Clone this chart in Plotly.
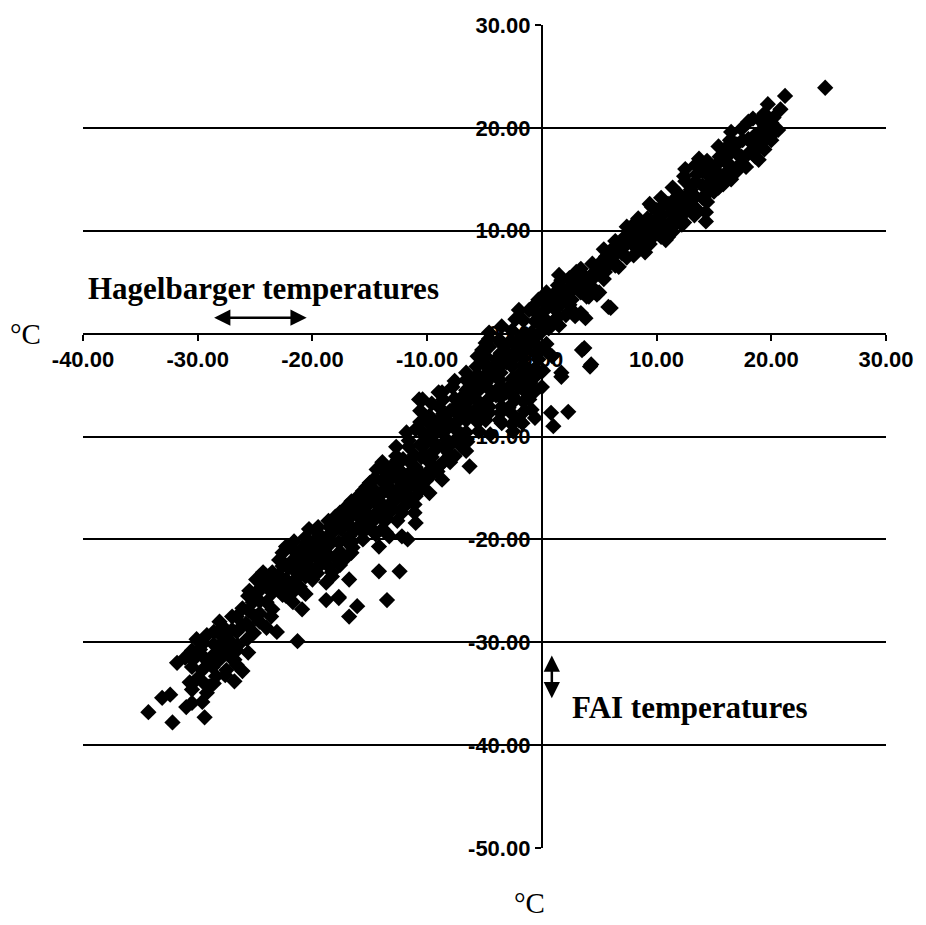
import plotly.graph_objects as go

# (Hagelbarger temperature, FAI temperature) pairs in degC
cold = [(-34.3,-36.8),(-32.2,-37.8),(-29.4,-37.3),(-33.1,-35.4),(-32.4,-35.1),(-31.0,-36.3),
        (-30.5,-35.9),(-31.8,-32.0),(-31.1,-31.5),(-30.4,-31.7),(-29.8,-30.7),(-30.1,-29.7),
        (-29.2,-29.3),(-27.8,-30.0),(-28.1,-31.7),(-27.2,-31.4),(-27.5,-32.7),(-28.7,-32.4),
        (-29.6,-32.7),(-30.1,-33.6),(-29.0,-34.3),(-28.4,-33.3),(-30.7,-33.9),(-29.2,-34.9),
        (-26.8,-31.7),(-26.1,-32.8),(-26.8,-33.8),(-25.7,-29.7),(-27.8,-28.5),(-28.1,-28.0),
        (-27.0,-27.5),(-26.1,-26.7),(-25.2,-26.1),(-24.0,-26.1),(-23.5,-26.8),(-24.6,-23.9),
        (-23.5,-23.2),(-22.3,-23.9),(-24.0,-28.6),(-23.1,-29.0),(-21.3,-29.9),(-21.7,-26.1),
        (-20.9,-26.8),(-22.3,-25.5),(-22.9,-24.6),(-21.1,-24.6),(-28.0,-29.3),(-27.0,-28.8),
        (-26.5,-30.3),(-25.8,-28.2),(-25.0,-27.5),(-24.9,-23.9),(-24.3,-23.2),(-24.0,-24.5),
        (-23.5,-25.2),(-25.5,-25.0),(-24.8,-25.2)]

mid = [(-20.0,-23.9),(-18.8,-25.9),(-17.7,-25.6),(-18.3,-23.2),(-19.4,-22.6),(-22.6,-23.9),
       (-22.9,-22.0),(-21.7,-21.0),(-22.3,-20.7),(-20.3,-19.0),(-18.5,-18.8),(-19.7,-20.0),
       (-20.9,-21.7),(-18.8,-21.3),(-17.7,-20.3),(-20.0,-22.9),(-18.3,-23.6),(-18.8,-24.2),
       (-17.0,-21.7),(-16.8,-23.9),(-16.8,-19.7),(-16.2,-19.0),(-17.0,-16.8),(-16.2,-17.4),
       (-15.3,-16.8),(-14.4,-17.4),(-15.0,-18.8),(-13.9,-19.0),(-13.3,-19.7),(-12.2,-19.7),
       (-14.2,-20.7),(-11.7,-20.0),(-11.0,-18.4),(-11.1,-17.4),(-14.2,-23.1),(-12.4,-23.1),
       (-13.5,-25.9),(-16.8,-27.5),(-16.1,-26.5),(-17.7,-25.7),(-15.3,-14.9),(-14.8,-15.8),
       (-13.9,-15.5),(-13.3,-14.9),(-12.7,-16.1),(-13.0,-17.1),(-12.2,-17.4),(-11.8,-15.5),
       (-11.0,-15.8),(-10.4,-14.9),(-9.8,-15.5),(-11.0,-14.2),(-12.2,-13.5),(-13.6,-13.5),
       (-13.9,-12.5),(-12.7,-11.9),(-12.7,-11.0),(-11.8,-9.6),(-11.0,-9.3),(-11.6,-11.0),
       (-10.4,-11.0),(-14.4,-13.2),(-23.0,-23.5),(-22.5,-22.3),(-22.0,-24.8),(-21.5,-22.5),
       (-21.0,-21.0),(-21.0,-23.2),(-20.5,-20.3),(-20.0,-21.5),(-19.5,-18.8),(-19.5,-20.5),
       (-19.0,-22.0),(-18.5,-20.0),(-18.0,-17.8),(-18.0,-21.8),(-17.5,-19.0),(-17.0,-18.2),
       (-16.5,-20.8),(-16.0,-15.8),(-16.0,-17.8),(-15.5,-18.5),(-15.0,-14.5),(-15.0,-16.2),
       (-14.5,-19.5),(-14.0,-14.3),(-14.0,-16.5),(-13.5,-18.0),(-13.0,-12.8),(-13.0,-15.8),
       (-12.5,-13.2),(-12.0,-14.5),(-12.0,-16.8),(-11.5,-12.5),(-11.0,-13.0),(-10.5,-12.0),
       (-10.0,-13.5)]

near_zero = [(-9.8,-12.5),(-9.0,-12.9),(-8.7,-14.2),(-9.2,-9.6),(-8.3,-10.3),(-8.1,-11.6),
             (-7.5,-8.7),(-6.6,-9.6),(-6.3,-12.9),(-7.0,-11.0),(-10.7,-6.4),(-9.8,-8.0),
             (-8.7,-5.7),(-7.8,-5.2),(-7.5,-7.1),(-5.7,-6.4),(-5.2,-8.0),(-4.6,-5.4),
             (-3.5,-7.1),(-3.5,-8.7),(-2.3,-6.4),(-1.7,-8.7),(-1.4,-5.7),(-2.9,-5.2),
             (-0.9,-7.4),(-10.4,-6.4),(-9.0,-5.7),(-6.6,-3.8),(-5.7,-3.2),(-4.6,-1.3),
             (-4.9,-2.2),(-3.7,-0.6),(-3.5,0.7),(-2.3,1.4),(-1.1,2.3),(-2.0,2.3),(-0.3,3.3),
             (-4.0,-2.5),(-3.1,-1.8),(-2.0,-0.6),(-0.9,0.1),(0.0,0.7),(-1.4,-1.6),(-0.3,-1.3),
             (-2.6,-3.2),(-1.1,-3.5),(-0.3,-2.5),(-3.7,-4.5),(-4.9,-4.8),(-6.3,-5.2),
             (-2.0,-5.2),(0.0,-5.2),(0.1,-3.6),(0.9,-2.2),(1.7,-3.8),(0.8,-7.7),(1.0,-9.0),
             (2.3,-7.6),(-3.7,-8.4),(-2.9,-7.2),(-2.0,-8.4),(-1.1,-6.4),(-3.1,-5.7),
             (-4.6,-7.1),(-6.3,-6.4),(-9.0,-7.1),(-7.5,-7.7),(-4.9,-8.4),(-10.0,-10.0),
             (-9.5,-11.5),(-9.0,-8.5),(-8.5,-9.5),(-8.0,-12.5),(-8.0,-7.5),(-7.0,-9.8),
             (-7.0,-6.2),(-6.5,-10.5),(-6.0,-7.8),(-6.0,-4.5),(-5.5,-9.5),(-5.5,-5.5),
             (-5.0,-3.0),(-5.0,-6.8),(-4.5,-9.8),(-4.2,-4.0),(-4.0,-6.0),(-3.5,-3.0),
             (-3.0,-1.0),(-2.5,-9.5),(-2.5,-2.5),(-2.0,-4.0),(-1.5,-7.5),(-1.5,-1.0),
             (-1.0,-4.8),(-0.5,-2.0),(-4.6,0.1),(-4.9,-0.9),(-5.2,-1.6),(-1.4,-1.3),
             (-10.0,-8.5),(-10.5,-9.5)]

warm = [(1.5,5.7),(0.9,3.3),(1.7,4.0),(2.6,3.3),(3.5,4.6),(3.0,6.0),(4.3,5.2),(5.0,6.5),
        (5.6,7.5),(6.7,8.2),(6.7,6.5),(7.8,8.8),(7.8,10.4),(9.0,9.8),(9.0,7.9),(9.6,12.3),
        (10.2,11.1),(10.8,9.1),(11.3,11.8),(4.3,4.6),(2.3,3.3),(0.3,2.3),(1.2,2.3),
        (4.8,3.8),(3.9,3.6),(6.0,2.5),(3.8,1.5),(3.7,-1.4),(4.3,-3.0),(2.1,1.8),(2.9,1.7),
        (1.7,5.2),(4.1,3.6),(5.0,4.0),(5.8,2.6),(3.4,2.0),(2.6,2.3),(3.5,-1.6),(4.2,-3.2),
        (1.7,-4.2),(5.5,6.0),(6.0,7.2),(7.0,7.8),(7.3,9.5),(8.3,8.5),(8.5,10.5),(9.2,11.2),
        (9.5,9.2),(10.0,12.0),(6.2,8.3),(5.2,7.0),(4.6,6.0),(3.8,5.5),(2.5,4.6),(3.2,5.0),
        (1.8,3.0),(1.0,3.8),(0.5,3.0),(-0.5,2.0),(0.2,1.5),(1.0,1.2),(0.6,0.5),(1.5,0.8)]

hot = [(10.0,10.0),(10.5,11.5),(11.0,12.6),(11.5,10.5),(12.0,13.5),(12.0,11.6),(12.5,14.8),
       (12.5,16.0),(13.0,12.5),(13.0,14.0),(13.5,15.5),(13.7,17.0),(14.0,13.2),(14.3,11.8),
       (14.3,10.9),(14.5,14.5),(15.0,16.0),(15.0,13.8),(15.5,17.2),(15.7,15.3),(16.0,18.0),
       (16.3,16.5),(16.5,19.6),(17.0,17.5),(17.0,15.8),(17.5,18.8),(18.0,20.6),(18.0,17.5),
       (18.6,17.2),(18.5,19.2),(19.0,20.8),(19.0,18.2),(19.7,22.3),(19.5,19.5),(20.0,20.5),
       (20.0,18.8),(20.6,19.8),(20.8,21.8),(21.2,23.1),(24.7,23.9),(11.0,9.4),(12.2,10.6),
       (13.3,11.5),(15.8,14.5),(16.5,15.0),(17.8,16.2),(18.9,16.9),(9.5,11.0),(8.5,9.0),
       (8.0,9.6),(10.5,10.0),(12.5,11.8),(11.5,13.0),(14.0,15.8),(16.8,18.5)]

# further readings from the densest, overlapping part of the band
dense = [(-30.5,-30.8),(-30.5,-32.4),(-30.5,-34.6),(-29.6,-30.2),(-29.6,-31.3),(-29.6,-33.8),
         (-29.6,-35.8),(-28.6,-29.0),(-28.6,-30.2),(-28.6,-31.2),(-28.6,-34.0),(-27.6,-29.2),
         (-27.6,-30.8),(-27.6,-33.2),(-26.6,-27.5),(-26.6,-29.0),(-26.6,-30.8),(-26.6,-32.2),
         (-25.6,-25.5),(-25.6,-26.9),(-25.6,-28.4),(-25.6,-31.0),(-24.6,-24.8),(-24.6,-26.0),
         (-24.6,-27.2),(-24.6,-28.0),(-23.6,-23.8),(-23.6,-24.4),(-23.6,-27.5),(-22.6,-21.3),
         (-22.6,-22.6),(-22.6,-24.2),(-22.6,-25.4),(-21.6,-20.2),(-21.6,-21.9),(-21.6,-23.0),
         (-21.6,-24.0),(-21.6,-25.0),(-20.6,-19.8),(-20.6,-21.1),(-20.6,-22.2),(-20.6,-23.6),
         (-20.6,-25.3),(-19.6,-19.3),(-19.6,-20.9),(-19.6,-21.8),(-19.6,-23.3),(-18.6,-18.2),
         (-18.6,-19.6),(-18.6,-20.6),(-18.6,-22.6),(-17.6,-17.4),(-17.6,-18.3),(-17.6,-21.2),
         (-17.6,-22.5),(-16.6,-16.3),(-16.6,-17.6),(-16.6,-18.8),(-16.6,-20.3),(-16.6,-21.3),
         (-15.6,-15.3),(-15.6,-16.0),(-15.6,-17.3),(-15.6,-19.3),(-15.6,-20.0),(-14.6,-14.1),
         (-14.6,-15.2),(-14.6,-16.4),(-14.6,-18.1),(-13.6,-13.0),(-13.6,-14.4),(-13.6,-16.9),
         (-13.6,-19.3),(-12.6,-12.3),(-12.6,-14.1),(-12.6,-15.2),(-12.6,-18.2),(-11.6,-10.4),
         (-11.6,-13.6),(-11.6,-14.9),(-11.6,-16.3),(-10.6,-7.5),(-10.6,-8.6),(-10.6,-10.8),
         (-10.6,-13.6),(-10.6,-15.2),(-9.6,-6.8),(-9.6,-9.0),(-9.6,-10.4),(-9.6,-12.0),
         (-9.6,-13.7),(-8.6,-6.4),(-8.6,-7.8),(-8.6,-8.9),(-8.6,-11.0),(-8.6,-12.5),
         (-7.6,-4.6),(-7.6,-6.3),(-7.6,-9.2),(-7.6,-10.4),(-7.6,-11.9),(-6.6,-4.5),
         (-6.6,-5.5),(-6.6,-7.2),(-6.6,-8.4),(-6.6,-11.4),(-5.6,-2.2),(-5.6,-4.0),
         (-5.6,-5.0),(-5.6,-7.2),(-5.6,-8.6),(-4.6,-0.5),(-4.6,-3.3),(-4.6,-4.3),
         (-4.6,-6.3),(-4.6,-7.7),(-3.6,-0.9),(-3.6,-1.9),(-3.6,-3.8),(-3.6,-5.1),
         (-3.6,-6.2),(-3.6,-7.7),(-2.6,0.3),(-2.6,-0.8),(-2.6,-4.4),(-2.6,-6.0),
         (-2.6,-7.8),(-2.6,-8.8),(-1.6,1.3),(-1.6,0.0),(-1.6,-2.4),(-1.6,-3.0),
         (-1.6,-4.3),(-1.6,-6.6),(-0.6,2.8),(-0.6,1.2),(-0.6,-0.4),(-0.6,-3.4),
         (-0.6,-4.2),(-0.6,-5.6),(-0.6,-8.2),(0.4,4.0),(0.4,3.4),(0.4,0.9),(0.4,-1.0),
         (0.4,-1.7),(1.4,4.7),(1.4,3.2),(1.4,1.6),(2.4,5.4),(2.4,4.0),(2.4,2.8),
         (3.4,6.3),(3.4,5.3),(3.4,4.0),(4.4,6.8),(4.4,5.7),(5.4,8.2),(5.4,6.6),(5.4,5.3),
         (6.4,9.0),(6.4,7.7),(6.4,6.6),(7.4,10.4),(7.4,8.7),(7.4,7.4),(8.4,11.2),
         (8.4,10.0),(8.4,8.2),(9.4,12.6),(9.4,10.3),(9.4,8.7),(10.4,13.2),(10.4,12.3),
         (10.4,10.8),(10.4,9.4),(11.4,14.2),(11.4,12.1),(11.4,11.0),(11.4,9.9),
         (12.4,15.3),(12.4,13.2),(12.4,12.4),(12.4,10.8),(13.4,16.4),(13.4,14.8),
         (13.4,13.3),(13.4,12.2),(14.4,16.8),(14.4,15.5),(14.4,13.6),(14.4,12.8),
         (15.4,18.2),(15.4,16.6),(15.4,15.0),(15.4,14.2),(16.4,18.8),(16.4,17.5),
         (16.4,16.0),(16.4,15.4),(17.4,19.9),(17.4,17.2),(17.4,16.6),(18.4,20.9),
         (18.4,18.4),(18.4,17.6),(19.4,21.4),(19.4,20.3),(19.4,18.8),(19.4,17.9),
         (20.2,21.0),(20.2,19.5)]

core = [(-19.1,-19.9),(-18.1,-19.2),(-17.1,-20.1),(-16.1,-16.8),(-15.1,-17.6),(-14.1,-15.6),
        (-13.1,-14.0),(-12.1,-12.2),(-11.1,-11.8),(-10.1,-11.9),(-9.1,-10.9),(-8.1,-8.6),
        (-7.1,-8.1),(-6.1,-6.2),(-5.1,-4.2),(-4.1,-3.2),(-3.1,-2.8),(-2.1,-1.6),(-1.1,-0.9),
        (-0.1,0.1),(-23.1,-24.2),(-22.1,-22.8),(-21.1,-22.1),(-20.1,-20.6),(-26.1,-28.4),
        (-27.1,-30.0),(-28.1,-30.4),(-29.1,-31.9),(-25.1,-29.1),(-12.1,-15.8),(-13.1,-16.4),
        (-14.1,-17.8),(-11.1,-16.6),(-10.1,-14.3),(-9.1,-13.4),(-8.1,-10.9),(2.0,3.9),
        (3.0,4.5),(4.0,5.1),(5.0,5.8),(6.0,6.9),(7.0,8.9),(8.0,7.6),(9.0,10.7),(10.0,11.1),
        (11.0,10.4),(12.0,12.7),(13.0,13.6),(14.0,14.4),(15.0,14.8),(16.0,16.7),(17.0,18.4),
        (18.0,18.9),(19.0,19.6),(20.0,19.9)]

points = cold + mid + near_zero + warm + hot + dense + core
hagelbarger = [p[0] for p in points]
fai = [p[1] for p in points]

x_range = [-40, 30]
y_range = [-50, 30]
x_ticks = [-40, -30, -20, -10, 0, 10, 20, 30]
x_tick_text = ["-40.00", "-30.00", "-20.00", "-10.00", "0.00", "10.00", "20.00", "30.00"]
y_ticks = [-50, -40, -30, -20, -10, 0, 10, 20, 30]
y_tick_text = ["-50.00", "-40.00", "-30.00", "-20.00", "-10.00", "0.00", "10.00", "20.00", "30.00"]

fig = go.Figure()
fig.add_trace(go.Scatter(
    x=hagelbarger, y=fai, mode="markers",
    marker=dict(symbol="diamond", size=12.5, color="black", line=dict(width=0)),
    hoverinfo="skip", showlegend=False))

tick_font = dict(family="Liberation Sans, Arial, sans-serif", size=22, color="black", weight="bold")

fig.update_layout(
    width=926, height=925,
    margin=dict(l=83, r=38, t=25, b=77),
    paper_bgcolor="white", plot_bgcolor="white",
    showlegend=False,
    xaxis=dict(range=x_range, tickmode="array", tickvals=x_ticks, ticktext=x_tick_text,
               showgrid=False, zeroline=False, showline=True, linecolor="black",
               linewidth=2, ticks="outside", ticklen=6, tickwidth=2, tickcolor="black",
               anchor="free", position=(0 - y_range[0]) / (y_range[1] - y_range[0]),
               tickfont=tick_font),
    yaxis=dict(range=y_range, tickmode="array", tickvals=y_ticks, ticktext=y_tick_text,
               showgrid=True, gridcolor="black", gridwidth=2, zeroline=False,
               showline=True, linecolor="black", linewidth=2, ticks="outside",
               ticklen=6, tickwidth=2, tickcolor="black",
               anchor="free", position=(0 - x_range[0]) / (x_range[1] - x_range[0]),
               tickfont=tick_font),
)

serif_bold = dict(family="Liberation Serif, Times New Roman, serif", size=31, color="black")
serif = dict(family="Liberation Serif, Times New Roman, serif", size=29, color="black")

fig.add_annotation(x=-24.3, y=4.4, xref="x", yref="y", text="<b>Hagelbarger temperatures</b>",
                   showarrow=False, font=serif_bold)
fig.add_annotation(x=12.9, y=-36.3, xref="x", yref="y", text="<b>FAI temperatures</b>",
                   showarrow=False, font=serif_bold)
fig.add_annotation(x=-0.072, y=0.625, xref="paper", yref="paper", text="°C",
                   xanchor="center", yanchor="middle", showarrow=False, font=serif)
fig.add_annotation(x=0.5565, y=-0.067, xref="paper", yref="paper", text="°C",
                   xanchor="center", yanchor="middle", showarrow=False, font=serif)

# double-headed arrows
fig.add_annotation(x=-20.5, y=1.55, ax=-28.7, ay=1.55, xref="x", yref="y", axref="x", ayref="y",
                   text="", showarrow=True, arrowhead=2, startarrowhead=2, arrowside="end+start",
                   arrowsize=1.3, startarrowsize=1.3, arrowwidth=2.5, arrowcolor="black")
fig.add_annotation(x=0.87, y=-31.3, ax=0.87, ay=-35.6, xref="x", yref="y", axref="x", ayref="y",
                   text="", showarrow=True, arrowhead=2, startarrowhead=2, arrowside="end+start",
                   arrowsize=1.3, startarrowsize=1.3, arrowwidth=2.5, arrowcolor="black")

fig.write_html("out.html")
